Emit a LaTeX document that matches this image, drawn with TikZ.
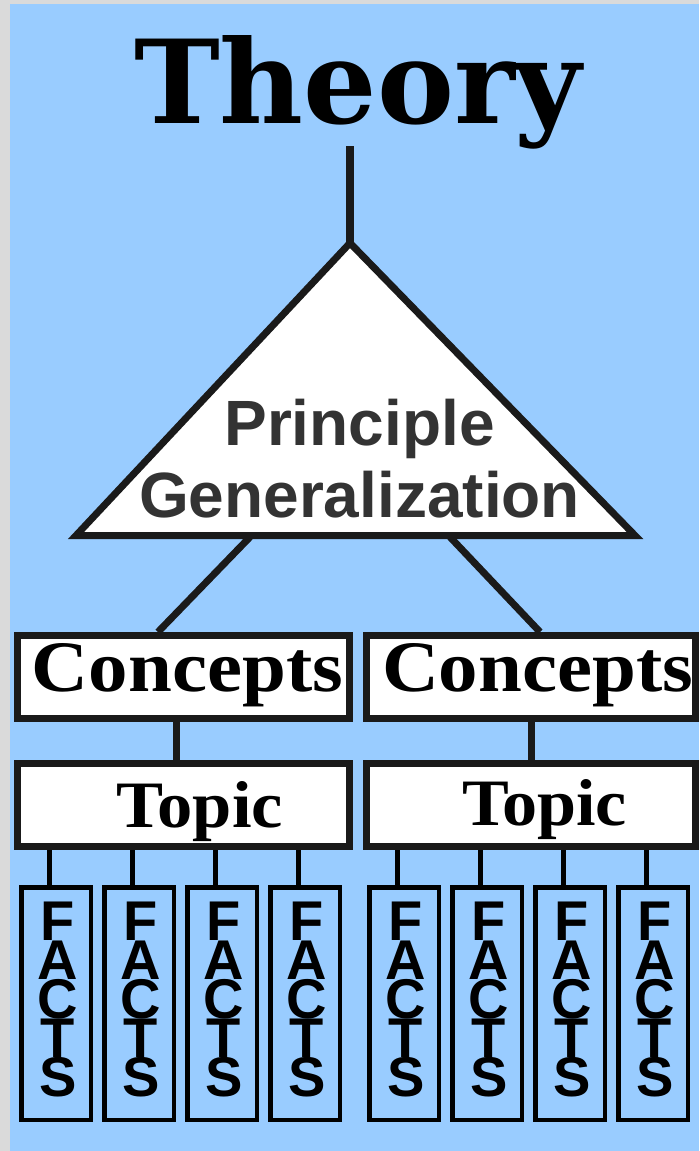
\documentclass[tikz,border=0pt]{standalone}
\usepackage{fontspec}
\usepackage{graphicx}
\setmainfont{Liberation Serif}
\newfontfamily\theoryfont{DejaVu Serif}
\newfontfamily\arialfont{Liberation Sans}
\definecolor{bgblue}{HTML}{99CCFF}
\definecolor{margingray}{HTML}{DADADA}
\definecolor{ink}{HTML}{1A1A1A}
\definecolor{tritext}{HTML}{333333}
\pgfdeclarelayer{back}
\pgfdeclarelayer{wires}
\pgfsetlayers{back,wires,main}
\begin{document}
\begin{tikzpicture}[x=1pt,y=-1pt,
  framebox/.style={draw=ink, line width=7pt, fill=white, inner sep=0pt},
  conn/.style={draw=ink, line width=7pt},
  leg/.style={draw=black, line width=5pt},
  factbox/.style={draw=black, line width=4.5pt, inner sep=0pt, minimum width=69.5pt, minimum height=232.5pt},
  factletter/.style={font=\arialfont\bfseries\fontsize{56}{56}\selectfont, inner sep=0pt, anchor=base, text=black},
  tritxt/.style={font=\arialfont\bfseries\fontsize{64}{64}\selectfont, inner sep=0pt, anchor=base, text=tritext},
  seriftxt/.style={font=\bfseries\fontsize{70}{70}\selectfont, inner sep=0pt, anchor=base, text=black}
]
\useasboundingbox (0,0) rectangle (699,1151);
\begin{pgfonlayer}{back}
  \fill[margingray] (0,0) rectangle (699,1151);
  \fill[bgblue] (10,4) rectangle (699,1151);
\end{pgfonlayer}

% Title
\node[inner sep=0pt, anchor=base, font=\theoryfont\bfseries\fontsize{120}{120}\selectfont] (theory) at (358,123) {\resizebox{448pt}{88pt}{Theory}};
\coordinate (ttop) at (350,146);

% Triangle
\coordinate (apex) at (350,243);
\coordinate (tl) at (76,535.5);
\coordinate (tr) at (635,535.5);
\coordinate (bL) at (250,537);
\coordinate (bR) at (450,537);
\draw[framebox, line join=miter] (apex) -- (tl) -- (tr) -- cycle;
\node[tritxt] (princ) at (359.5,445) {Principle};
\node[tritxt] (gener) at (359.5,517) {Generalization};

% Concepts and topics
\node[framebox, minimum width=332pt, minimum height=83pt] (c1) at (183.5,677) {};
\node[framebox, minimum width=329pt, minimum height=83pt] (c2) at (531,677) {};
\node[framebox, minimum width=332pt, minimum height=83pt] (t1) at (183.5,805) {};
\node[framebox, minimum width=329pt, minimum height=83pt] (t2) at (531,805) {};
\node[seriftxt] (c1txt) at (187.5,691) {\resizebox{311pt}{48pt}{Concepts}};
\node[seriftxt] (c2txt) at (537.5,691) {\resizebox{311pt}{48pt}{Concepts}};
\node[seriftxt] (t1txt) at (200,827) {\resizebox{166pt}{46pt}{Topic}};
\node[seriftxt] (t2txt) at (544.5,825) {\resizebox{165pt}{46pt}{Topic}};

% Facts
\foreach \i/\x in {1/56,2/139,3/222,4/305,5/404,6/487,7/570,8/653} {
  \node[factbox] (f\i) at (\x,1003.5) {};
  \foreach \l [count=\k] in {F,A,C,T,S}
    \node[factletter] (f\i l\k) at (\x+2,901+39*\k) {\l};
}

\begin{pgfonlayer}{wires}
  \draw[conn, line width=8pt] (ttop) -- (apex);
  \draw[conn] (bL) -- ([xshift=-25.5pt]c1.north);
  \draw[conn] (bR) -- ([xshift=9pt]c2.north);
  \draw[conn] ([xshift=-7.5pt]c1.south) -- ([xshift=-7.5pt]t1.north);
  \draw[conn] (c2.south) -- (t2.north);
  \foreach \i/\t in {1/t1,2/t1,3/t1,4/t1,5/t2,6/t2,7/t2,8/t2}
    \draw[leg] ([xshift=-7pt]f\i.north) -- ([xshift=-7pt]f\i.north |- \t.south);
\end{pgfonlayer}
\end{tikzpicture}
\end{document}
